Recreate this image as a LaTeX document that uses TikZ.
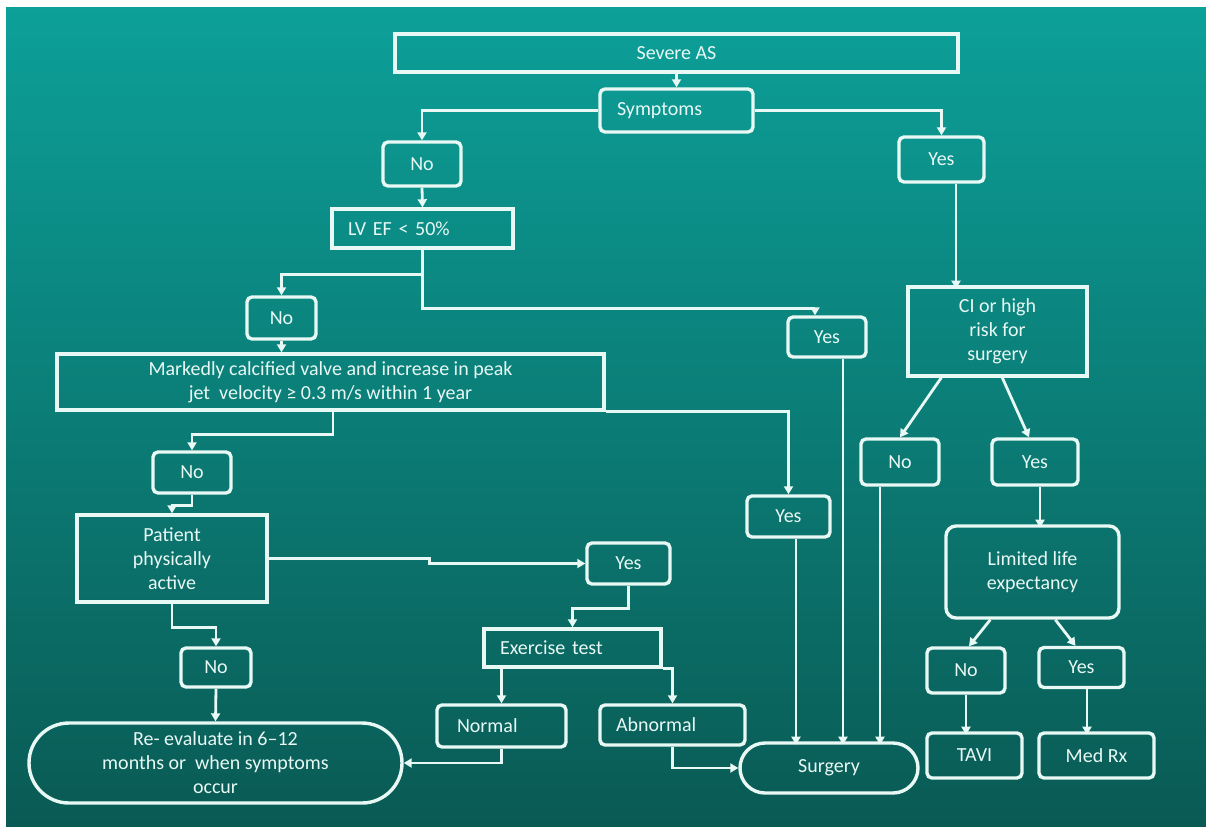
\documentclass[tikz,border=0pt]{standalone}
\usepackage{fontspec}
\setmainfont{Carlito}
\usetikzlibrary{arrows.meta}
\definecolor{tealtop}{RGB}{12,160,153}
\definecolor{tealbot}{RGB}{10,90,84}
\definecolor{chalk}{RGB}{232,248,244}

\begin{document}
\begin{tikzpicture}
[x=0.5pt,y=-0.5pt,
box/.style={rectangle,draw=chalk,line width=1.7pt,text=chalk,inner sep=2pt,align=center,font=\fontsize{10}{12}\selectfont},
rbox/.style={box,rounded corners=2.5pt},
pill/.style={box,rounded corners=#1},
arr/.style={draw=chalk,line width=1.4pt,-{Triangle[length=4pt,width=4.5pt]}}]

% background
\fill[white] (0,0) rectangle (1206,826);
\shade[top color=tealtop,bottom color=tealbot] (6,7) rectangle (1206,826);

% top
\node[box,minimum width=281.5pt,minimum height=19pt] (severe) at (676.5,53) {Severe AS};
\node[rbox,text width=59.5pt,align=left,inner xsep=8.5pt,minimum height=21.5pt] (symp) at (676.5,110.5) {Symptoms};
\node[rbox,minimum width=42.5pt,minimum height=22.5pt] (yesA) at (941.5,159.5) {Yes};
\node[rbox,minimum width=39pt,minimum height=22pt] (noA) at (422,164) {No};

% no symptoms
\node[box,text width=74.5pt,align=left,inner xsep=8pt,minimum height=19.5pt] (lvef) at (422.5,228.5) {LV EF < 50\%};
\node[rbox,minimum width=34.5pt,minimum height=21pt] (noB) at (281.5,318) {No};
\node[rbox,minimum width=39pt,minimum height=20pt] (yesB) at (827,337) {Yes};
\node[box,minimum width=273.5pt,minimum height=28pt] (calcif) at (330.5,382) {Markedly calcified valve and increase in peak\\jet\ \ velocity ≥ 0.3 m/s within 1 year};
\node[rbox,minimum width=41.5pt,minimum height=20.5pt] (yesD) at (788.5,516.5) {Yes};
\node[rbox,minimum width=39pt,minimum height=20.5pt] (noD) at (192,472.5) {No};
\node[box,minimum width=95pt,minimum height=43.5pt] (patient) at (172,558.5) {Patient\\physically\\active};
\node[rbox,minimum width=41.5pt,minimum height=20.5pt] (yesE) at (628.5,563.5) {Yes};
\node[box,text width=72.5pt,align=left,inner xsep=8pt,minimum height=19pt] (exer) at (572.5,648) {Exercise test};
\node[rbox,text width=44.5pt,align=left,inner xsep=10pt,minimum height=21pt] (normal) at (501.5,726) {Normal};
\node[rbox,text width=56.5pt,align=left,inner xsep=8pt,minimum height=20pt] (abn) at (672.5,725) {Abnormal};
\node[rbox,minimum width=35pt,minimum height=19.5pt] (noE) at (216,667.5) {No};
\node[pill=20pt,minimum width=186.5pt,minimum height=40pt] (reeval) at (215.5,763) {Re- evaluate in 6–12\\months or\ \ when symptoms\\occur};
\node[pill=12.5pt,minimum width=89pt,minimum height=25pt] (surgery) at (829,768) {Surgery};

% symptoms
\node[box,minimum width=89.5pt,minimum height=44.5pt] (ci) at (997.5,331.5) {CI or high\\risk for\\surgery};
\node[rbox,minimum width=39pt,minimum height=23pt] (noC) at (900,462) {No};
\node[rbox,minimum width=43pt,minimum height=23pt] (yesC) at (1035,462) {Yes};
\node[rbox,rounded corners=5pt,minimum width=86.5pt,minimum height=46pt] (limited) at (1032.5,572) {Limited life\\expectancy};
\node[rbox,minimum width=39pt,minimum height=22.5pt] (noF) at (966,670.5) {No};
\node[rbox,minimum width=42.5pt,minimum height=20pt] (yesF) at (1081.5,667.5) {Yes};
\node[rbox,minimum width=47.5pt,minimum height=22.5pt] (tavi) at (974.5,755.5) {TAVI};
\node[rbox,minimum width=57.5pt,minimum height=22.5pt] (medrx) at (1096.5,755.5) {Med Rx};

% arrows
\draw[arr] (severe.south) -- (symp.north);
\draw[arr] (symp.east) -| (yesA.north);
\draw[arr] (symp.west) -| (noA.north);
\draw[arr] (noA.south) -- (lvef.north);
\draw[arr] (lvef.south) -- ++(0,25) -| (noB.north);
\draw[arr] (lvef.south) |- ([xshift=-6pt,yshift=3.5pt]yesB.north) -- ([xshift=-6pt]yesB.north);
\draw[arr] (noB.south) -- (calcif.north -| noB.south);
\draw[arr] (calcif.south east) -| (yesD.north);
\draw[arr] ([xshift=1.25pt]calcif.south) -- ++(0,23) -| (noD.north);
\draw[arr] (noD.south) -- ++(0,11) -| (patient.north);
\draw[arr] (patient.east) -- ++(161,0) |- (yesE.west);
\draw[arr] (yesE.south) -- ++(0,23) -| (exer.north);
\draw[arr] (normal.north |- exer.south) -- (normal.north);
\draw[arr] (exer.south east) -| (abn.north);
\draw[arr] (normal.south) |- (reeval.east);
\draw[arr] (abn.south) |- (surgery.west);
\draw[arr] (patient.south) -- ++(0,24) -| (noE.north);
\draw[arr] (noE.south) -- (reeval.north);
\draw[arr] ([xshift=3.75pt]yesD.south) -- ++(0,206);
\draw[arr] ([xshift=8pt]yesB.south) -- ++(0,386);
\draw[arr] ([xshift=-10pt]noC.south) -- ++(0,258);
\draw[arr] ([xshift=7.25pt]yesA.south) -- ++(0,105);
\draw[arr] ([xshift=17.5pt]ci.south west) -- (noC.north);
\draw[arr] ([xshift=48pt]ci.south west) -- ([xshift=-3pt]yesC.north);
\draw[arr] ([xshift=2.5pt]yesC.south) -- ++(0,41);
\draw[arr] ([xshift=23pt]limited.south west) -- ([xshift=1.5pt]noF.north);
\draw[arr] ([xshift=55.5pt]limited.south west) -- ([xshift=-3pt]yesF.north);
\draw[arr] (noF.south) -- ++(0,40);
\draw[arr] ([xshift=2.75pt]yesF.south) -- ++(0,45.5);

\end{tikzpicture}
\end{document}
